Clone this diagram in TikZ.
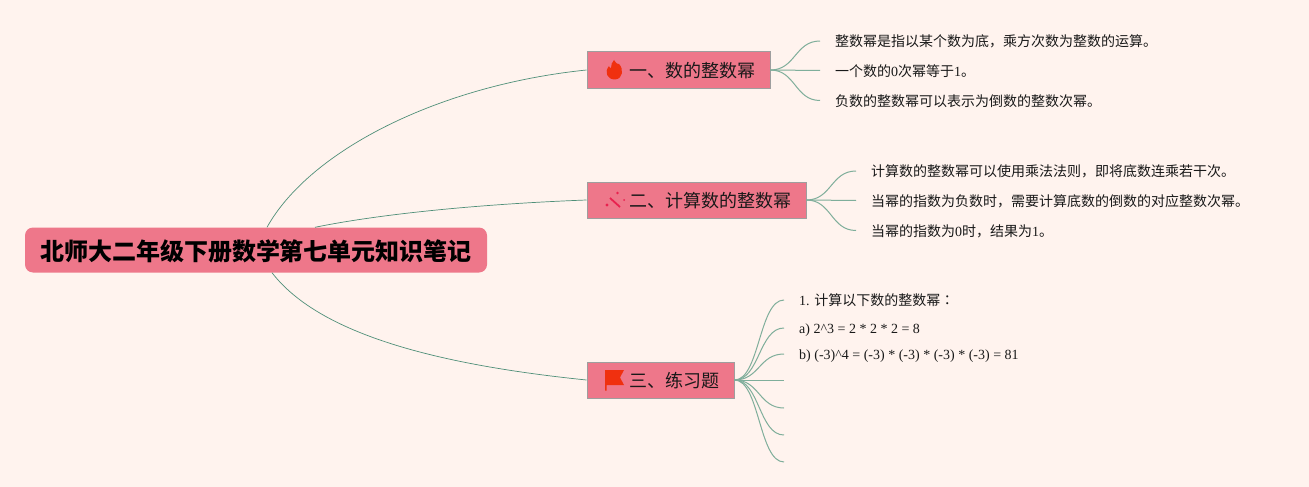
\documentclass[tikz,border=0pt]{standalone}
\usepackage{fontspec}
\setmainfont{Liberation Serif}
\newfontfamily\cjk{Noto Sans CJK SC}
\newfontfamily\cjktc{Noto Sans CJK TC}
\newcommand{\zh}[1]{{\cjk #1}}
\usetikzlibrary{positioning,calc,arrows.meta}
\definecolor{bgcol}{HTML}{FFF3EE}
\definecolor{boxcol}{HTML}{EE778A}
\definecolor{edgecol}{HTML}{7FAE9B}
\definecolor{rootedgecol}{HTML}{4F8F78}
\definecolor{flamecol}{HTML}{F0300F}
\definecolor{wandcol}{HTML}{E8224F}
\tikzset{
  rootbox/.style={fill=boxcol,rounded corners=8pt,minimum width=462pt,minimum height=45pt,inner sep=0pt,text height=21.5pt,text depth=0pt,font=\cjk\fontsize{24}{28}\selectfont\bfseries,text=black},
  topicbox/.style={draw=black!38,line width=1pt,fill=boxcol,minimum height=36pt,inner xsep=15pt,inner ysep=0pt,text height=15.6pt,text depth=0pt,font=\cjk\fontsize{18}{22}\selectfont,text=black!90},
  leaf/.style={anchor=west,inner xsep=15pt,inner ysep=0pt,text height=11.5pt,text depth=0pt,font=\fontsize{14}{17}\selectfont,text=black!90},
  rootedge/.style={draw=rootedgecol,line width=.7pt},
  leafedge/.style={draw=edgecol,line width=1pt},
}
\begin{document}
\begin{tikzpicture}[x=1pt,y=-1pt]
\useasboundingbox[fill=bgcol] (0,0) rectangle (1309,487);
\node[rootbox] (root) at (256,250) {北师大二年级下册数学第七单元知识笔记};
\node[topicbox,minimum width=183pt] (topicA) at (678.5,70) {\hspace*{27pt}一、数的整数幂};
\node[topicbox,minimum width=219pt] (topicB) at (696.5,200) {\hspace*{27pt}二、计算数的整数幂};
\node[topicbox,minimum width=147pt] (topicC) at (660.5,380) {\hspace*{27pt}三、练习题};
\draw[rootedge] ([xshift=11pt]root.north) .. controls (310,150) and (440,85) .. (topicA.west);
\draw[rootedge] ([xshift=59pt]root.north) .. controls (380,214) and (480,204) .. (topicB.west);
\draw[rootedge] ([xshift=16pt]root.south) .. controls (320,335) and (440,365) .. (topicC.west);
% leaves of the first topic
\node[leaf] (a1) at (820,41) {\zh{整数幂是指以某个数为底，乘方次数为整数的运算。}};
\node[leaf] (a2) at (820,70.5) {\zh{一个数的}0\zh{次幂等于}1\zh{。}};
\node[leaf] (a3) at (820,100.5) {\zh{负数的整数幂可以表示为倒数的整数次幂。}};
\foreach \n in {a1,a2,a3}
  \draw[leafedge] (topicA.east) .. controls +(25,0) and +(-25,0) .. (\n.west);
% leaves of the second topic
\node[leaf] (b1) at (856,171) {\zh{计算数的整数幂可以使用乘法法则，即将底数连乘若干次。}};
\node[leaf] (b2) at (856,200.5) {\zh{当幂的指数为负数时，需要计算底数的倒数的对应整数次幂。}};
\node[leaf] (b3) at (856,230.5) {\zh{当幂的指数为}0\zh{时，结果为}1\zh{。}};
\foreach \n in {b1,b2,b3}
  \draw[leafedge] (topicB.east) .. controls +(25,0) and +(-25,0) .. (\n.west);
% leaves of the third topic
\node[leaf] (c1) at (784,300) {1. \zh{计算以下数的整数幂}{\cjktc ：}};
\node[leaf] (c2) at (784,328) {a) 2\^{}3 = 2 * 2 * 2 = 8};
\node[leaf] (c3) at (784,354) {b) (-3)\^{}4 = (-3) * (-3) * (-3) * (-3) = 81};
\coordinate (c4) at (784,380);
\coordinate (c5) at (784,408);
\coordinate (c6) at (784,435);
\coordinate (c7) at (784,462);
\foreach \n in {c1,c2,c3}
  \draw[leafedge] (topicC.east) .. controls +(25,0) and +(-25,0) .. (\n.west);
\foreach \n in {c4,c5,c6,c7}
  \draw[leafedge] (topicC.east) .. controls +(25,0) and +(-25,0) .. (\n);
% flame
\fill[flamecol] (614,60) .. controls (616,63) and (618,65) .. (619,64) .. controls (624,69) and (623,79) .. (615,79.5) .. controls (607,79.5) and (604,72) .. (609,66) .. controls (609,67) and (610,68) .. (611,68) .. controls (611,65) and (612,62) .. (614,60) -- cycle;
% wand
\draw[line width=1.8pt,draw=wandcol] (610,198) -- (620,207);
\fill[wandcol] (607,205) circle [radius=1.6pt];
\fill[wandcol] (617.5,193) circle [radius=1.4pt];
\fill[wandcol] (624,200) circle [radius=1pt];
% flag
\fill[flamecol] (605,370) -- (624,370) -- (620,377.5) -- (624,385) -- (606.5,385) -- (606.5,390.5) -- (605,390.5) -- cycle;
\end{tikzpicture}
\end{document}
